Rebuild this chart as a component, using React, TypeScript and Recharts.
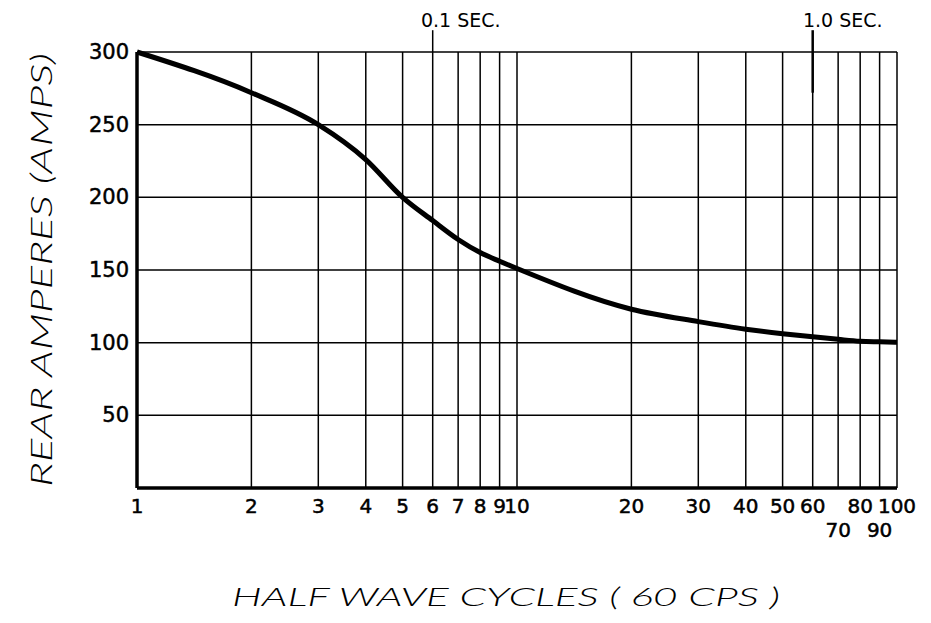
import {
  LineChart,
  Line,
  XAxis,
  YAxis,
  CartesianGrid,
  ReferenceLine,
  Label,
} from "recharts";

// half wave cycles (x) vs rear amperes (y)
const cycles = [1, 2, 3, 4, 5, 6, 7, 8, 9, 10, 20, 30, 40, 50, 60, 70, 80, 90, 100];
const amps = [300, 272, 250, 226, 200, 184, 171, 162, 156, 151, 123, 114.5, 109.3, 106.2, 104, 102.3, 101, 100.6, 100.3];

const xTicks = [1, 2, 3, 4, 5, 6, 7, 8, 9, 10, 20, 30, 40, 50, 60, 70, 80, 90, 100];
const yTicks = [50, 100, 150, 200, 250, 300];
const lowRowTicks = [70, 90];

const markerTenth = 6;
const markerSecond = 60;

const tickFont = "'DejaVu Sans', sans-serif";
const titleFont = "Lato, 'Open Sans', sans-serif";

const XTick = ({ x, y, payload }: any) => {
  const low = lowRowTicks.includes(payload.value);
  return (
    <text
      x={x}
      y={y + (low ? 41 : 17)}
      textAnchor="middle"
      fontFamily={tickFont}
      fontSize={20}
      fill="#000"
      stroke="#000"
      strokeWidth={0.5}
    >
      {payload.value}
    </text>
  );
};

const YTick = ({ x, y, payload }: any) => (
  <text
    x={x}
    y={y + 7}
    textAnchor="end"
    fontFamily={tickFont}
    fontSize={21}
    fill="#000"
    stroke="#000"
    strokeWidth={0.5}
  >
    {payload.value}
  </text>
);

export default function App() {
  const chartData = cycles.map((c, i) => ({ cycles: c, amps: amps[i] }));

  return (
    <div style={{ position: "absolute", left: 0, top: 0, background: "#fff" }}>
      <LineChart
        width={931}
        height={623}
        data={chartData}
        margin={{ top: 52, right: 34, bottom: 0, left: 0 }}
      >
        <CartesianGrid stroke="#000" strokeWidth={1.5} />
        <XAxis
          dataKey="cycles"
          type="number"
          scale="log"
          domain={[1, 100]}
          ticks={xTicks}
          interval={0}
          height={135}
          tickLine={false}
          axisLine={{ stroke: "#000", strokeWidth: 3.5 }}
          tick={<XTick />}
        >
          <Label
            content={({ viewBox }: any) => (
              <text
                x={viewBox.x + viewBox.width / 2 - 11}
                y={606}
                textAnchor="middle"
                fontFamily={titleFont}
                fontStyle="italic"
                fontWeight={300}
                fontSize={26}
                textLength={548}
                lengthAdjust="spacingAndGlyphs"
                fill="#000"
              >
                HALF WAVE CYCLES ( 60 CPS )
              </text>
            )}
          />
        </XAxis>
        <YAxis
          type="number"
          domain={[0, 300]}
          ticks={yTicks}
          interval={0}
          width={137}
          tickLine={false}
          axisLine={{ stroke: "#000", strokeWidth: 3.5 }}
          tick={<YTick />}
        >
          <Label
            content={({ viewBox }: any) => {
              const cx = 40;
              const cy = viewBox.y + viewBox.height / 2;
              return (
                <text
                  x={cx}
                  y={cy}
                  transform={`rotate(-90, ${cx}, ${cy})`}
                  textAnchor="middle"
                  dominantBaseline="central"
                  fontFamily={titleFont}
                  fontStyle="italic"
                  fontWeight={300}
                  fontSize={30}
                  textLength={434}
                  lengthAdjust="spacingAndGlyphs"
                  fill="#000"
                >
                  REAR AMPERES (AMPS)
                </text>
              );
            }}
          />
        </YAxis>
        <ReferenceLine
          segment={[
            { x: markerTenth, y: 300 },
            { x: markerTenth, y: 315 },
          ]}
          ifOverflow="visible"
          stroke="#000"
          strokeWidth={1.5}
          label={{
            value: "0.1 SEC.",
            position: "top",
            dx: 28,
            offset: 3,
            fill: "#000",
            fontSize: 19,
            fontFamily: tickFont,
          }}
        />
        <ReferenceLine
          segment={[
            { x: markerSecond, y: 272 },
            { x: markerSecond, y: 315 },
          ]}
          ifOverflow="visible"
          stroke="#000"
          strokeWidth={2.5}
          label={{
            value: "1.0 SEC.",
            position: "top",
            dx: 30,
            offset: 3,
            fill: "#000",
            fontSize: 19,
            fontFamily: tickFont,
          }}
        />
        <Line
          type="monotone"
          dataKey="amps"
          stroke="#000"
          strokeWidth={5}
          dot={false}
          isAnimationActive={false}
        />
      </LineChart>
    </div>
  );
}
